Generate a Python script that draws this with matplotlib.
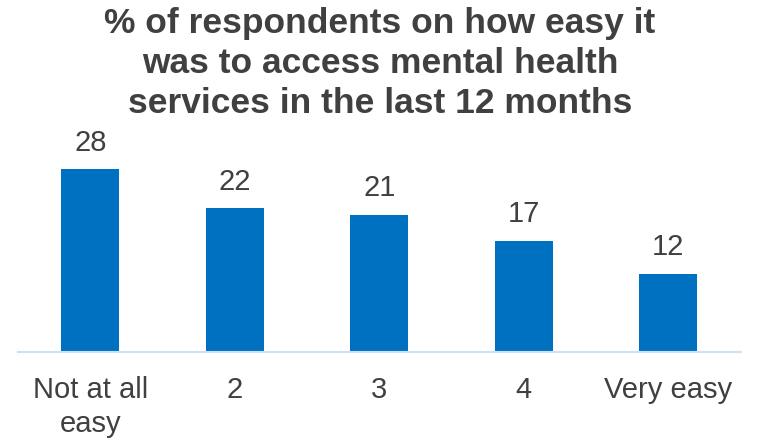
import matplotlib
matplotlib.use("Agg")
import matplotlib.pyplot as plt

categories = ["Not at all\neasy", "2", "3", "4", "Very easy"]
values = [28, 22, 21, 17, 12]

title = "% of respondents on how easy it\nwas to access mental health\nservices in the last 12 months"

bar_color = "#0070C0"
text_color = "#404040"
axis_color = "#C9E0F5"

plt.rcParams["font.family"] = ["Liberation Sans", "DejaVu Sans"]

fig = plt.figure(figsize=(7.57, 4.41), dpi=100)
ax = fig.add_axes([18 / 757, 89 / 441, 722.5 / 757, 196 / 441])

x = list(range(len(categories)))
bars = ax.bar(x, values, width=0.4, color=bar_color, zorder=2)

for xi, v in zip(x, values):
    ax.annotate(f"{v}", (xi, v), xytext=(0, 9), textcoords="offset points",
                ha="center", va="bottom", fontsize=21, color=text_color)

ax.set_xlim(-0.5, len(categories) - 0.5)
ax.set_ylim(0, 30)
ax.set_xticks(x)
ax.set_xticklabels(categories, fontsize=21, color=text_color, linespacing=1.27)
ax.tick_params(axis="x", length=0, pad=17)
ax.set_yticks([])
for side in ["top", "right", "left"]:
    ax.spines[side].set_visible(False)
ax.spines["bottom"].set_color(axis_color)
ax.spines["bottom"].set_linewidth(1.5)
ax.patch.set_alpha(0)

fig.text(0.502, 0.985, title, ha="center", va="top", fontsize=25.5,
         fontweight="bold", color=text_color, linespacing=1.27)

fig.savefig("out.png", dpi=100)
